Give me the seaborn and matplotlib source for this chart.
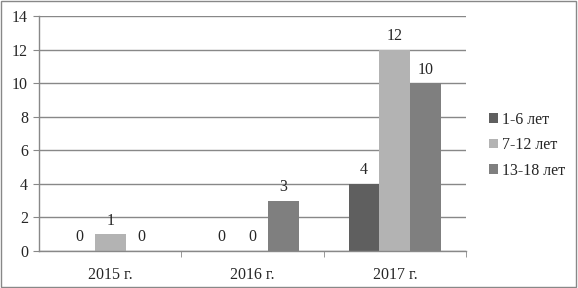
import numpy as np
import pandas as pd
import seaborn as sns
import matplotlib.pyplot as plt
from matplotlib.patches import Rectangle

years = ['2015 г.', '2016 г.', '2017 г.']
groups = ['1-6 лет', '7-12 лет', '13-18 лет']
v_1_6 = [0, 0, 4]
v_7_12 = [1, 0, 12]
v_13_18 = [0, 3, 10]
colors = ['#5f5f5f', '#b3b3b3', '#7f7f7f']

df = pd.DataFrame({
    'year': years * 3,
    'group': [groups[0]] * 3 + [groups[1]] * 3 + [groups[2]] * 3,
    'value': v_1_6 + v_7_12 + v_13_18,
})

sns.set_style('white')
plt.rcParams['font.family'] = ['Liberation Serif', 'DejaVu Serif']

fig = plt.figure(figsize=(5.78, 2.88), dpi=100)
ax = fig.add_axes([39 / 578, 1 - 251 / 288, 427 / 578, 235 / 288])

sns.barplot(data=df, x='year', y='value', hue='group', hue_order=groups,
            palette=colors, width=0.65, saturation=1, ax=ax, linewidth=0)

for c in ax.containers:
    ax.bar_label(c, fmt='%d', padding=4, fontsize=11.5)

ax.set_ylim(0, 14)
ax.set_yticks(range(0, 15, 2))
ax.set_xlim(-0.5, 2.5)
ax.set_xlabel('')
ax.set_ylabel('')
ax.yaxis.grid(True, color='#888888', linewidth=1)
ax.set_axisbelow(True)
for s in ['top', 'right']:
    ax.spines[s].set_visible(False)
for s in ['left', 'bottom']:
    ax.spines[s].set_color('#888888')
    ax.spines[s].set_linewidth(1)
ax.tick_params(axis='y', left=True, length=4, color='#888888', labelsize=11.5, pad=4)
ax.tick_params(axis='x', bottom=False, labelsize=11.5, pad=8)
ax.set_xticks([0.5, 1.5, 2.5], minor=True)
ax.tick_params(axis='x', which='minor', bottom=True, length=4, color='#888888')

ax.legend(loc='center left', bbox_to_anchor=(1.02, 0.45), frameon=False,
          fontsize=11.5, handlelength=0.55, handleheight=0.55, handletextpad=0.3,
          labelspacing=0.6)

fig.patches.append(Rectangle((0.002, 0.003), 0.995, 0.993, transform=fig.transFigure,
                             fill=False, edgecolor='#888888', linewidth=1))

fig.savefig('out.png', dpi=100)
